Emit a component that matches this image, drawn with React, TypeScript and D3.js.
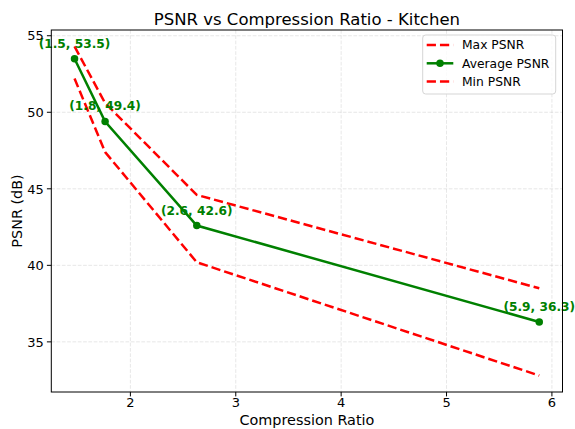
import React from "react";
import * as d3 from "d3";

// Compression ratio per quality setting
const ratios = [1.47, 1.76, 2.63, 5.88];
const avgPsnr = [53.5, 49.4, 42.6, 36.3];
const maxPsnr = [54.3, 50.6, 44.6, 38.5];
const minPsnr = [52.2, 47.4, 40.2, 32.8];
const xTicks = [2, 3, 4, 5, 6];
const yTicks = [35, 40, 45, 50, 55];

const W = 575;
const H = 429;
const plot = { left: 51.3, right: 562.5, top: 30, bottom: 392 };
const FONT = "DejaVu Sans, sans-serif";

function padded(values: number[]): [number, number] {
  const lo = d3.min(values)!;
  const hi = d3.max(values)!;
  const m = (hi - lo) * 0.05;
  return [lo - m, hi + m];
}

export default function App() {
  const x = d3.scaleLinear().domain(padded(ratios)).range([plot.left, plot.right]);
  const y = d3
    .scaleLinear()
    .domain(padded([...avgPsnr, ...maxPsnr, ...minPsnr]))
    .range([plot.bottom, plot.top]);

  const line = (vals: number[]) =>
    d3
      .line<number>()
      .x((_, i) => x(ratios[i]))
      .y((v) => y(v))(vals)!;

  const legendItems = [
    { label: "Max PSNR", color: "#ff0000", dash: "9.25,4", marker: false },
    { label: "Average PSNR", color: "#008000", dash: undefined, marker: true },
    { label: "Min PSNR", color: "#ff0000", dash: "9.25,4", marker: false },
  ];

  return (
    <svg
      width={W}
      height={H}
      style={{ position: "absolute", left: 0, top: 0, background: "#fff" }}
      fontFamily={FONT}
    >
      <rect width={W} height={H} fill="#fff" />
      {/* grid */}
      {xTicks.map((t) => (
        <line
          key={"gx" + t}
          x1={x(t)}
          x2={x(t)}
          y1={plot.top}
          y2={plot.bottom}
          stroke="#b0b0b0"
          strokeOpacity={0.3}
          strokeWidth={1}
          strokeDasharray="3.7,1.6"
        />
      ))}
      {yTicks.map((t) => (
        <line
          key={"gy" + t}
          x1={plot.left}
          x2={plot.right}
          y1={y(t)}
          y2={y(t)}
          stroke="#b0b0b0"
          strokeOpacity={0.3}
          strokeWidth={1}
          strokeDasharray="3.7,1.6"
        />
      ))}

      {/* series */}
      <path d={line(maxPsnr)} fill="none" stroke="#ff0000" strokeWidth={2.5} strokeDasharray="9.25,4" />
      <path d={line(avgPsnr)} fill="none" stroke="#008000" strokeWidth={2.5} />
      <path d={line(minPsnr)} fill="none" stroke="#ff0000" strokeWidth={2.5} strokeDasharray="9.25,4" />
      {avgPsnr.map((v, i) => (
        <circle key={"m" + i} cx={x(ratios[i])} cy={y(v)} r={3.75} fill="#008000" />
      ))}
      {avgPsnr.map((v, i) => (
        <text
          key={"a" + i}
          x={x(ratios[i])}
          y={y(v) - 11}
          textAnchor="middle"
          fontSize={12.2}
          fontWeight="bold"
          fill="#008000"
        >
          {`(${ratios[i].toFixed(1)}, ${v.toFixed(1)})`}
        </text>
      ))}

      {/* frame */}
      <rect
        x={plot.left}
        y={plot.top}
        width={plot.right - plot.left}
        height={plot.bottom - plot.top}
        fill="none"
        stroke="#000"
        strokeWidth={1}
      />

      {/* ticks */}
      {xTicks.map((t) => (
        <g key={"tx" + t}>
          <line x1={x(t)} x2={x(t)} y1={plot.bottom} y2={plot.bottom + 4.4} stroke="#000" />
          <text x={x(t)} y={406.5} textAnchor="middle" fontSize={13} fill="#000">
            {t}
          </text>
        </g>
      ))}
      {yTicks.map((t) => (
        <g key={"ty" + t}>
          <line x1={plot.left - 4.4} x2={plot.left} y1={y(t)} y2={y(t)} stroke="#000" />
          <text x={plot.left - 7.5} y={y(t) + 4.7} textAnchor="end" fontSize={13} fill="#000">
            {t}
          </text>
        </g>
      ))}

      {/* labels */}
      <text x={(plot.left + plot.right) / 2} y={25} textAnchor="middle" fontSize={16.5} fill="#000">
        PSNR vs Compression Ratio - Kitchen
      </text>
      <text x={(plot.left + plot.right) / 2} y={425} textAnchor="middle" fontSize={14.4} fill="#000">
        Compression Ratio
      </text>
      <text
        transform={`translate(21.5, ${(plot.top + plot.bottom) / 2}) rotate(-90)`}
        textAnchor="middle"
        fontSize={14.4}
        fill="#000"
      >
        PSNR (dB)
      </text>

      {/* legend */}
      <rect x={422.7} y={35} width={133} height={59} rx={3} fill="#fff" fillOpacity={0.8} stroke="#d5d5d5" />
      {legendItems.map((d, i) => {
        const ly = 45 + i * 18.3;
        return (
          <g key={d.label}>
            <line x1={426.7} x2={453.3} y1={ly} y2={ly} stroke={d.color} strokeWidth={2.5} strokeDasharray={d.dash} />
            {d.marker && <circle cx={440} cy={ly} r={3.75} fill={d.color} />}
            <text x={462} y={ly + 4.4} fontSize={12.3} fill="#000">
              {d.label}
            </text>
          </g>
        );
      })}
    </svg>
  );
}
